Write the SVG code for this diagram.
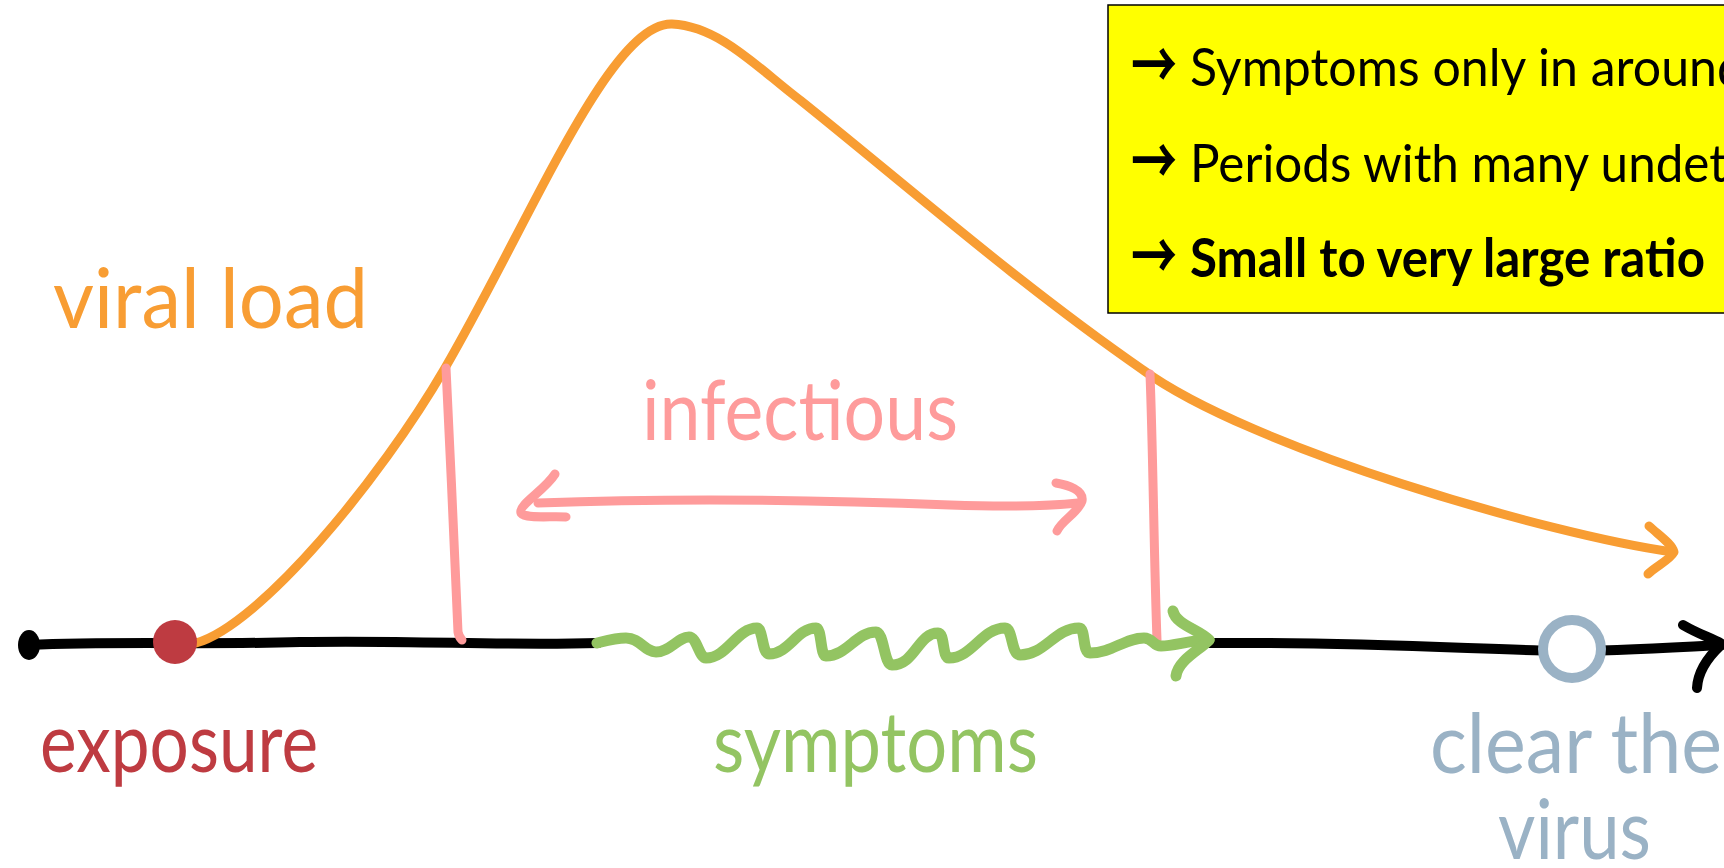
<svg xmlns="http://www.w3.org/2000/svg" width="1724" height="868" viewBox="0 0 1724 868">
<style>
.hand{font-family:Lato,"Open Sans","Liberation Sans",sans-serif;font-size:84px;}
.box{font-family:Lato,"Liberation Sans",sans-serif;font-size:53px;fill:#000;}
.arr{font-family:"Noto Sans CJK SC","DejaVu Sans",sans-serif;font-size:66px;font-weight:bold;fill:#000;}
.ln{fill:none;stroke-linecap:round;stroke-linejoin:round;}
.blk{stroke:#000;stroke-width:10;}
.org{stroke:#f89d33;stroke-width:9;}
.pnk{stroke:#fe9b9b;stroke-width:9;}
.grn{stroke:#93c462;stroke-width:11;}
</style>
<rect width="1724" height="868" fill="#fff"/>
<g id="connectors">
  <path class="ln blk" d="M29,645 C 120,641 200,645 300,642 C 420,640 500,646 598,643"/>
  <path class="ln blk" d="M1209,643 C 1350,642 1450,648 1560,651 C 1620,651 1680,647 1722,645"/>
  <path class="ln blk" d="M1683,625 C 1700,635 1712,638 1722,644 C 1710,655 1698,670 1697,688"/>
  <path class="ln org" d="M196,643 C 260,625 380,480 445,368 C 530,222 610,22 672,24 C 720,26 760,70 800,100 C 900,180 1020,285 1143,370 C 1250,448 1550,535 1673,552"/>
  <path class="ln org" d="M1649,526 C 1660,536 1672,544 1674,552 C 1670,560 1656,566 1648,574"/>
  <path class="ln pnk" d="M446,368 C 450,450 455,560 458,632 C 459,637 461,639 462,640"/>
  <path class="ln pnk" d="M1150,374 C 1153,450 1154,560 1157,640"/>
  <path class="ln pnk" d="M538,503 C 700,497 850,501 950,505 C 1010,507 1050,506 1078,503"/>
  <path class="ln pnk" d="M555,474 C 545,490 518,505 521,513 C 526,519 550,516 566,517"/>
  <path class="ln pnk" d="M1056,483 C 1068,485 1084,490 1082,501 C 1078,513 1062,520 1057,531"/>
  <path class="ln grn" d="M597,643 C609,640 616,638 626,638 C640,638 645,652 656,652 C670,652 678,637 689,637 C697,637 699,658 706,658 C727,658 737,628 757,628 C763,628 762,654 769,654 C789,654 797,628 816,628 C822,628 820,656 826,656 C847,656 856,632 876,632 C884,632 884,665 892,665 C915,665 918,633 938,633 C945,633 942,658 949,658 C972,658 982,628 1005,628 C1013,628 1011,655 1020,655 C1045,655 1055,628 1079,628 C1086,628 1082,653 1090,653 C1112,653 1125,638 1144,638 C1153,638 1153,646 1161,646 C1175,646 1190,640 1209,640"/>
  <path class="ln grn" d="M1173,611 C 1176,625 1200,630 1209,640 C 1200,650 1178,660 1176,676"/>
</g>
<g id="start-point"><ellipse cx="29" cy="645" rx="11" ry="15" fill="#000"/></g>
<g id="exposure">
  <circle cx="175" cy="642" r="22" fill="#be3b41"/>
  <text class="hand" x="40" y="772" fill="#be3b41" textLength="278" lengthAdjust="spacingAndGlyphs">exposure</text>
</g>
<g id="clear">
  <circle cx="1572" cy="649" r="29" fill="#fff" stroke="#9ab2c5" stroke-width="10"/>
  <text class="hand" x="1430" y="773" fill="#9ab2c5" textLength="292" lengthAdjust="spacingAndGlyphs">clear the</text>
  <text class="hand" x="1498" y="859" fill="#9ab2c5" textLength="153" lengthAdjust="spacingAndGlyphs">virus</text>
</g>
<g id="viral-load"><text class="hand" x="53" y="328" fill="#f89d33" textLength="315" lengthAdjust="spacingAndGlyphs">viral load</text></g>
<g id="infectious"><text class="hand" x="642" y="440" fill="#fe9b9b" textLength="316" lengthAdjust="spacingAndGlyphs">infectious</text></g>
<g id="symptoms"><text class="hand" x="713" y="772" fill="#93c462" textLength="325" lengthAdjust="spacingAndGlyphs">symptoms</text></g>
<g id="note">
  <rect x="1108" y="5" width="640" height="308" fill="#ffff00" stroke="#000" stroke-width="1.5"/>
  <text class="arr" x="1131" y="89" textLength="46" lengthAdjust="spacingAndGlyphs">→</text>
  <text class="box" x="1190" y="86" textLength="555" lengthAdjust="spacingAndGlyphs">Symptoms only in around</text>
  <text class="arr" x="1131" y="185" textLength="46" lengthAdjust="spacingAndGlyphs">→</text>
  <text class="box" x="1190" y="182" textLength="537" lengthAdjust="spacingAndGlyphs">Periods with many undet</text>
  <text class="arr" x="1131" y="280" textLength="46" lengthAdjust="spacingAndGlyphs">→</text>
  <text class="box" x="1190" y="277" font-weight="bold" textLength="515" lengthAdjust="spacingAndGlyphs">Small to very large ratio</text>
</g>
</svg>
